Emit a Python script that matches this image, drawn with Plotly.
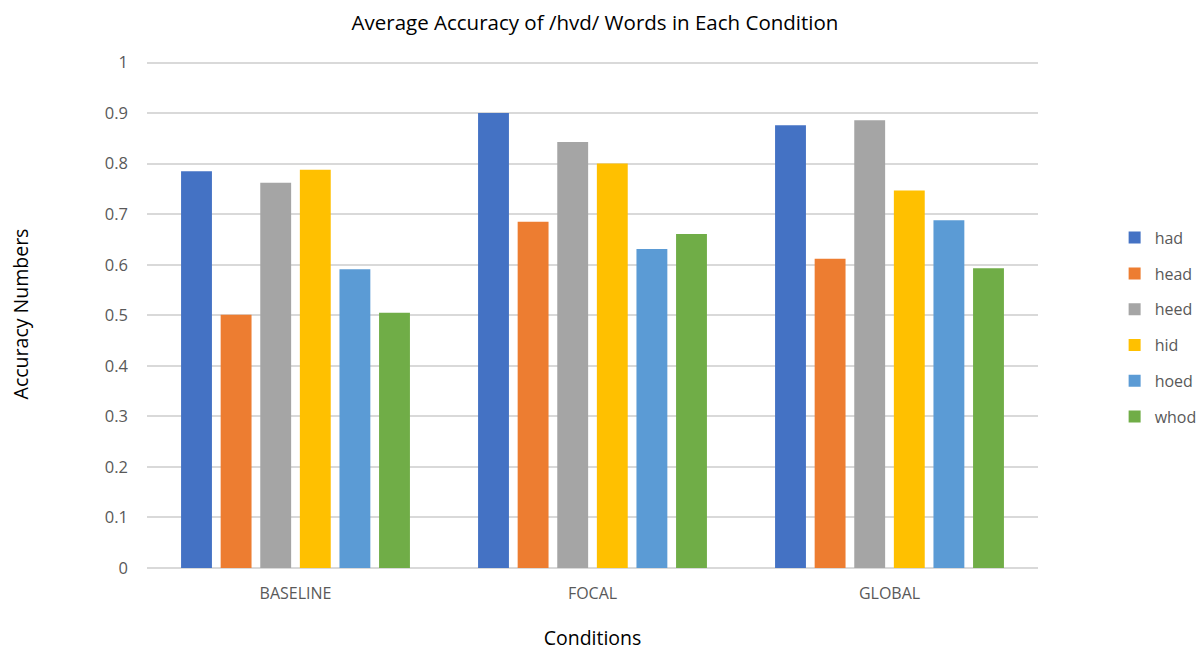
import plotly.graph_objects as go

conditions = ["BASELINE", "FOCAL", "GLOBAL"]
words = ["had", "head", "heed", "hid", "hoed", "whod"]
had = [0.785, 0.900, 0.876]
head = [0.501, 0.685, 0.612]
heed = [0.762, 0.843, 0.886]
hid = [0.788, 0.800, 0.747]
hoed = [0.591, 0.631, 0.688]
whod = [0.505, 0.661, 0.593]
series = [had, head, heed, hid, hoed, whod]
colors = ["#4472C4", "#ED7D31", "#A5A5A5", "#FFC000", "#5B9BD5", "#70AD47"]

FONT = "Open Sans"
fig = go.Figure()
for name, vals, col in zip(words, series, colors):
    fig.add_trace(go.Bar(x=conditions, y=vals, name=name, legendgroup=name,
                         marker=dict(color=col, line=dict(width=0))))

fig.update_layout(
    width=1202, height=651,
    paper_bgcolor="white", plot_bgcolor="white",
    barmode="group", bargap=0.2, bargroupgap=0.22,
    margin=dict(l=147, r=164, t=60, b=83, autoexpand=False),
    font=dict(family=FONT, color="#595959"),
    title=dict(text="Average Accuracy of /hvd/ Words in Each Condition",
               x=0.495, xanchor="center", y=0.965, yanchor="middle",
               font=dict(family=FONT, size=20.5, color="#000000")),
    xaxis=dict(title=dict(text="Conditions", font=dict(size=19.5, color="#000000"), standoff=41),
               tickfont=dict(size=16, color="#595959"), showgrid=False,
               showline=False, ticks="", ticklabelstandoff=14),
    yaxis=dict(title=dict(text="Accuracy Numbers", font=dict(size=19.5, color="#000000"), standoff=70),
               range=[0, 1.005], dtick=0.1, tick0=0, tickformat="~g",
               tickfont=dict(size=16.5, color="#595959"),
               showgrid=True, gridcolor="#D9D9D9", gridwidth=1.5,
               zeroline=True, zerolinecolor="#D9D9D9", zerolinewidth=1.5,
               ticks="", ticklabelstandoff=18),
    legend=dict(x=1.086, xanchor="left", y=0.474, yanchor="middle",
                font=dict(size=16, color="#595959"), tracegroupgap=12,
                itemwidth=30, bgcolor="rgba(0,0,0,0)"),
)

fig.write_html("out.html", config={"displayModeBar": False},
               post_script="document.body.style.margin='0';document.body.style.overflow='hidden';")
